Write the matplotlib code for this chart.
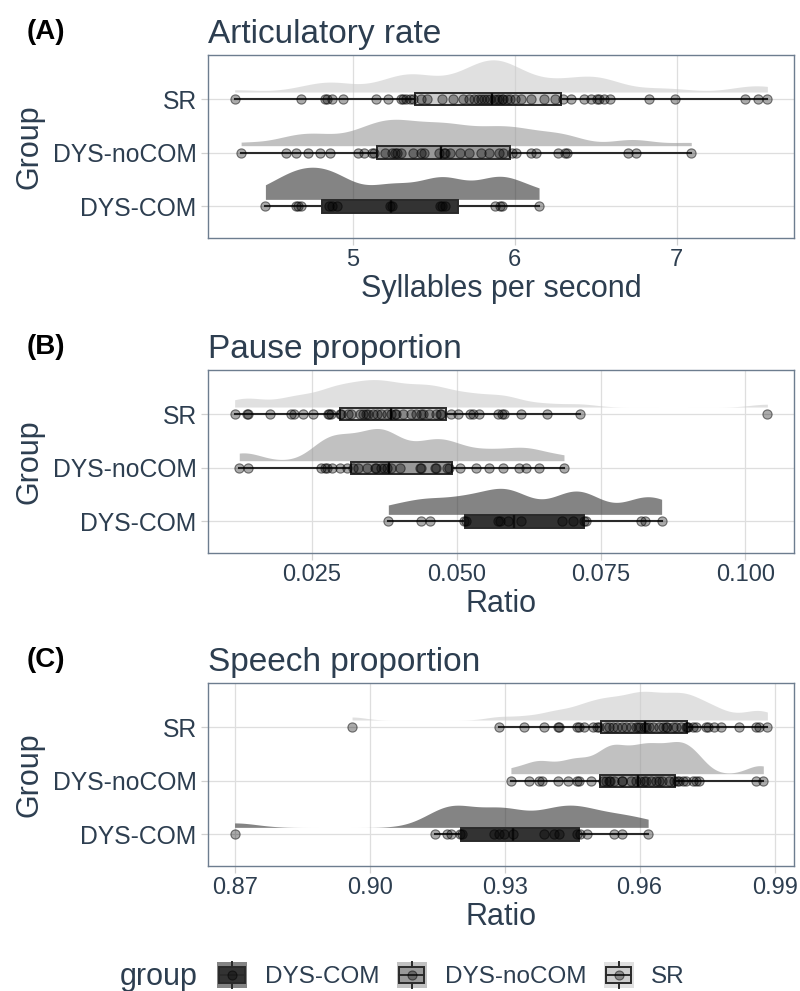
"""Raincloud-style comparison of speech timing measures across three groups."""

import matplotlib

matplotlib.use("Agg")
import matplotlib.pyplot as plt  # noqa: E402
import numpy as np  # noqa: E402
from matplotlib.legend_handler import HandlerBase  # noqa: E402
from matplotlib.lines import Line2D  # noqa: E402
from matplotlib.patches import Patch, Rectangle  # noqa: E402

plt.rcParams["font.family"] = ["Liberation Sans", "DejaVu Sans"]

GROUPS = ["DYS-COM", "DYS-noCOM", "SR"]  # bottom to top
GROUP_FILLS = {"DYS-COM": "#333333", "DYS-noCOM": "#999999", "SR": "#cccccc"}
TEXT = "#2d3e50"
EDGE = "#2a2a2a"
BORDER = "#6d7d8f"

# Articulatory rate (syllables per second)
artic_sr = [4.27, 4.68, 4.83, 4.84, 4.87, 4.94, 5.14, 5.22, 5.30, 5.31, 5.33, 5.35, 5.37,
            5.42, 5.46, 5.55, 5.62, 5.68, 5.72, 5.75, 5.77, 5.79, 5.81, 5.83, 5.85,
            5.87, 5.89, 5.90, 5.92, 5.93, 5.95, 5.97, 6.00, 6.04, 6.10, 6.18, 6.25,
            6.30, 6.35, 6.43, 6.47, 6.51, 6.52, 6.55, 6.59, 6.83, 6.99, 7.42, 7.50, 7.56]
artic_nocom = [4.31, 4.59, 4.65, 4.72, 4.80, 4.86, 5.03, 5.07, 5.12, 5.13,
               5.20, 5.24, 5.26, 5.27, 5.30, 5.37, 5.42, 5.44, 5.53, 5.56, 5.57, 5.60,
               5.66, 5.72, 5.79, 5.84, 5.90, 5.93,
               5.98, 6.01, 6.10, 6.13, 6.27, 6.31, 6.32, 6.70, 6.75, 7.09]
artic_com = [4.46, 4.65, 4.66, 4.68, 4.85, 4.87, 4.90, 5.23, 5.24, 5.54, 5.55, 5.57,
             5.88, 5.91, 5.92, 6.15]

# Pause proportion (ratio)
pause_sr = [0.0116, 0.0137, 0.0139, 0.0178, 0.0214, 0.0219, 0.0234, 0.0251, 0.0277, 0.0280, 0.0282,
            0.0298, 0.0300, 0.0312, 0.0318, 0.0333, 0.0338, 0.0344, 0.0347, 0.0356, 0.0362,
            0.0370, 0.0380, 0.0387, 0.0393, 0.0395, 0.0408, 0.0422, 0.0430, 0.0439, 0.0442,
            0.0452, 0.0465, 0.0471, 0.0474,
            0.0491, 0.0503, 0.0523, 0.0529, 0.0539, 0.0572, 0.0578, 0.0583, 0.0611, 0.0656,
            0.0714, 0.1038]
pause_nocom = [0.0124, 0.0139, 0.0266, 0.0272, 0.0275, 0.0284, 0.0298, 0.0310,
               0.0321, 0.0330, 0.0345, 0.0359, 0.0361, 0.0370, 0.0375, 0.0380, 0.0387, 0.0402,
               0.0436, 0.0439, 0.0462, 0.0465, 0.0483, 0.0487,
               0.0506, 0.0534, 0.0557, 0.0581, 0.0609, 0.0621, 0.0643, 0.0686]
pause_com = [0.0382, 0.0438, 0.0454, 0.0513, 0.0516, 0.0572, 0.0575, 0.0589, 0.0611, 0.0682,
             0.0702, 0.0720, 0.0724, 0.0820, 0.0826, 0.0855]

# Speech proportion (ratio)
speech_sr = [0.8961, 0.9287, 0.9344, 0.9388, 0.9418, 0.9422, 0.9460, 0.9466, 0.9477, 0.9496,
             0.9505, 0.9510,
             0.9525, 0.9533, 0.9540, 0.9550, 0.9562, 0.9570, 0.9580, 0.9592, 0.9596, 0.9600,
             0.9610, 0.9614, 0.9622, 0.9630, 0.9644, 0.9651, 0.9659, 0.9660, 0.9675, 0.9681,
             0.9692, 0.9703, 0.9705, 0.9708,
             0.9718, 0.9725, 0.9748, 0.9751, 0.9766, 0.9781, 0.9822, 0.9859, 0.9866, 0.9884]
speech_nocom = [0.9314, 0.9355, 0.9376, 0.9384, 0.9418, 0.9442, 0.9462, 0.9466, 0.9492,
                0.9518, 0.9525, 0.9533, 0.9535, 0.9544, 0.9560, 0.9562, 0.9580, 0.9592, 0.9600,
                0.9610, 0.9614, 0.9625, 0.9636, 0.9644, 0.9650, 0.9666, 0.9677, 0.9684, 0.9688,
                0.9696, 0.9703, 0.9718, 0.9725, 0.9731, 0.9859, 0.9875]
speech_com = [0.8700, 0.9145, 0.9173, 0.9181, 0.9200, 0.9205, 0.9277, 0.9288, 0.9299, 0.9318,
              0.9388, 0.9410, 0.9422, 0.9462, 0.9468, 0.9483, 0.9544, 0.9561, 0.9619]

artic_ticks = [5, 6, 7]
artic_ticklabels = ["5", "6", "7"]
pause_ticks = [0.025, 0.050, 0.075, 0.100]
pause_ticklabels = ["0.025", "0.050", "0.075", "0.100"]
speech_ticks = [0.87, 0.90, 0.93, 0.96, 0.99]
speech_ticklabels = ["0.87", "0.90", "0.93", "0.96", "0.99"]

PANELS = [
    ("(A)", "Articulatory rate", "Syllables per second",
     {"DYS-COM": artic_com, "DYS-noCOM": artic_nocom, "SR": artic_sr},
     artic_ticks, artic_ticklabels),
    ("(B)", "Pause proportion", "Ratio",
     {"DYS-COM": pause_com, "DYS-noCOM": pause_nocom, "SR": pause_sr},
     pause_ticks, pause_ticklabels),
    ("(C)", "Speech proportion", "Ratio",
     {"DYS-COM": speech_com, "DYS-noCOM": speech_nocom, "SR": speech_sr},
     speech_ticks, speech_ticklabels),
]


def nrd0(values):
    """R's default bandwidth rule."""
    arr = np.asarray(values, dtype=float)
    sd = arr.std(ddof=1)
    q75, q25 = np.percentile(arr, [75, 25])
    return 0.9 * min(sd, (q75 - q25) / 1.34) * len(arr) ** -0.2


def trimmed_density(values, adjust=0.5, npts=400):
    """Gaussian KDE evaluated over the data range only."""
    arr = np.asarray(values, dtype=float)
    bw = nrd0(arr) * adjust
    grid = np.linspace(arr.min(), arr.max(), npts)
    z = (grid[:, None] - arr[None, :]) / bw
    dens = np.exp(-0.5 * z ** 2).sum(axis=1) / (len(arr) * bw * np.sqrt(2 * np.pi))
    return grid, dens


class BoxKeyHandler(HandlerBase):
    """Legend key: shaded background, vertical boxplot glyph and a point."""

    def create_artists(self, legend, orig_handle, xdescent, ydescent,
                       width, height, fontsize, trans):
        fill = orig_handle.get_facecolor()
        x0, y0 = -xdescent, -ydescent
        xc = x0 + width / 2
        bg = Rectangle((x0, y0), width, height, facecolor=fill, alpha=0.6,
                       lw=0, transform=trans)
        box = Rectangle((x0 + 0.08 * width, y0 + 0.2 * height), 0.84 * width,
                        0.6 * height, facecolor=fill, edgecolor=EDGE, lw=1.4,
                        transform=trans)
        w_lo = Line2D([xc, xc], [y0, y0 + 0.2 * height], color=EDGE, lw=1.4,
                      transform=trans)
        w_hi = Line2D([xc, xc], [y0 + 0.8 * height, y0 + height], color=EDGE,
                      lw=1.4, transform=trans)
        med = Line2D([x0 + 0.08 * width, x0 + 0.92 * width], [y0 + height / 2] * 2,
                     color=EDGE, lw=1.4, transform=trans)
        pt = Line2D([xc], [y0 + height / 2], marker="o", ms=6.5, ls="none",
                    mfc=(0, 0, 0, 0.33), mec=(0, 0, 0, 0.5), mew=0.8,
                    transform=trans)
        return [bg, box, w_lo, w_hi, med, pt]


W, H = 800, 991
fig = plt.figure(figsize=(W / 100, H / 100), dpi=100)

AX_LEFT, AX_RIGHT = 208, 794
PANEL_TOPS = [55, 370, 683]
PANEL_H = 183

for (tag, title, xlabel, data, ticks, ticklabels), top in zip(PANELS, PANEL_TOPS):
    ax = fig.add_axes([AX_LEFT / W, 1 - (top + PANEL_H) / H,
                       (AX_RIGHT - AX_LEFT) / W, PANEL_H / H])
    positions = np.arange(1, len(GROUPS) + 1)

    # half densities, scaled together within the panel
    dens = {g: trimmed_density(data[g]) for g in GROUPS}
    peak = max(d.max() for _, d in dens.values())
    for pos, g in zip(positions, GROUPS):
        grid, d = dens[g]
        base = pos + 0.13
        ax.fill_between(grid, base, base + 0.6 * d / peak, color=GROUP_FILLS[g],
                        alpha=0.6, lw=0, zorder=2)

    bp = ax.boxplot([data[g] for g in GROUPS], positions=positions,
                    orientation="horizontal", widths=0.23, patch_artist=True,
                    showfliers=False, showcaps=False, whis=1.5, zorder=3)
    for patch, g in zip(bp["boxes"], GROUPS):
        patch.set_facecolor(GROUP_FILLS[g])
        patch.set_edgecolor(EDGE)
        patch.set_linewidth(1.4)
    for line in bp["whiskers"]:
        line.set_color(EDGE)
        line.set_linewidth(1.5)
    for line in bp["medians"]:
        line.set_color("#111111")
        line.set_linewidth(1.7)

    for pos, g in zip(positions, GROUPS):
        vals = data[g]
        ax.scatter(vals, np.full(len(vals), pos), s=44, facecolor=(0, 0, 0, 0.33),
                   edgecolor=(0, 0, 0, 0.5), linewidth=0.8, zorder=4)

    lo = min(min(v) for v in data.values())
    hi = max(max(v) for v in data.values())
    pad = 0.05 * (hi - lo)
    ax.set_xlim(lo - pad, hi + pad)
    ax.set_ylim(0.41, 3.82)
    ax.set_xticks(ticks)
    ax.set_xticklabels(ticklabels)
    ax.set_yticks(positions)
    ax.set_yticklabels(GROUPS)

    ax.grid(True, color="#dedede", lw=0.9)
    ax.set_axisbelow(True)
    for spine in ax.spines.values():
        spine.set_color(BORDER)
        spine.set_linewidth(1.0)
    ax.tick_params(axis="both", colors="#d0d0d0", labelcolor=TEXT, labelsize=17,
                   length=4.7, width=0.9, pad=3.4)
    ax.tick_params(axis="y", labelsize=17.8)
    ax.set_xlabel(xlabel, fontsize=22, color=TEXT, labelpad=2)

    fig.text(AX_LEFT / W, 1 - (top - 12) / H, title, fontsize=24, color=TEXT,
             ha="left", va="baseline")
    fig.text(27 / W, 1 - (top - 16) / H, tag, fontsize=20, fontweight="bold",
             color="black", ha="left", va="baseline")
    fig.text(30 / W, 1 - (top + PANEL_H / 2) / H, "Group", fontsize=22, color=TEXT,
             rotation=90, ha="center", va="center")

handles = [Patch(facecolor=GROUP_FILLS[g]) for g in GROUPS]
fig.legend(handles, GROUPS, handler_map={Patch: BoxKeyHandler()},
           loc="center left", bbox_to_anchor=(217 / W, 1 - 975 / H), ncol=3,
           frameon=False, fontsize=17.5, labelcolor=TEXT, handlelength=1.23,
           handleheight=1.27, handletextpad=0.73, columnspacing=0.73,
           borderpad=0, borderaxespad=0)
fig.text(198 / W, 1 - 985 / H, "group", fontsize=22, color=TEXT,
         ha="right", va="baseline")

fig.savefig("out.png", dpi=100)
plt.close(fig)
